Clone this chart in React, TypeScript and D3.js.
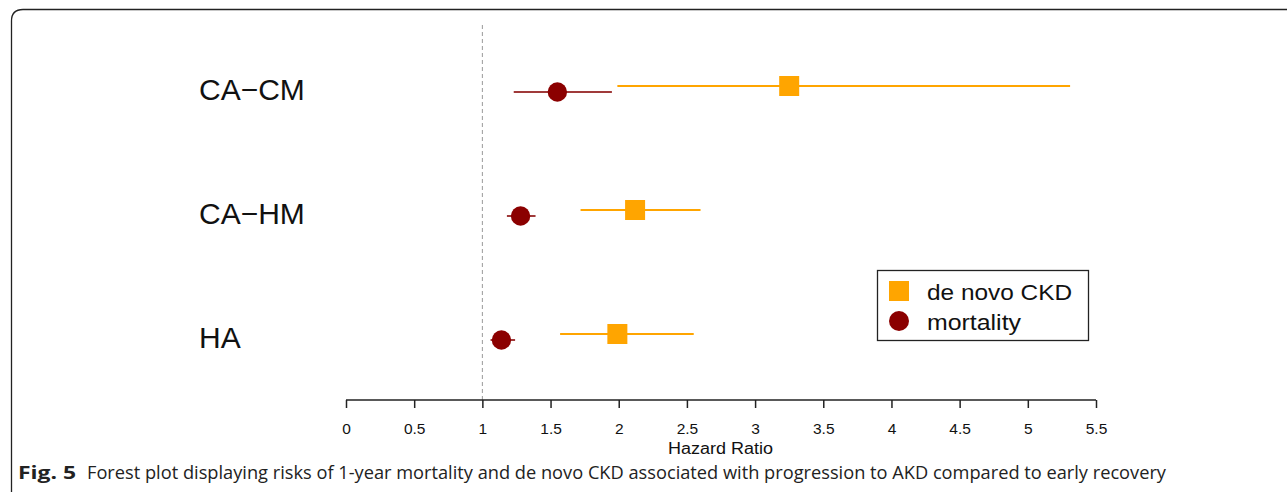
import React, { useEffect, useRef } from 'react'
import * as d3 from 'd3'

// rows of the forest plot, top to bottom
const categories = ['CA\u2212CM', 'CA\u2212HM', 'HA']

// hazard ratio and 95% CI
const ckdHR = [3.25, 2.12, 1.99]
const ckdLow = [1.99, 1.72, 1.57]
const ckdHigh = [5.31, 2.60, 2.55]

const mortHR = [1.55, 1.28, 1.14]
const mortLow = [1.23, 1.18, 1.06]
const mortHigh = [1.95, 1.39, 1.24]

const tickValues = [0, 0.5, 1, 1.5, 2, 2.5, 3, 3.5, 4, 4.5, 5, 5.5]
const legendLabels = ['de novo CKD', 'mortality']
const legendWidths = [145, 94]

const W = 1287
const H = 492
const ORANGE = '#FFA500'
const DARKRED = '#8B0000'

export default function App() {
    const ref = useRef<SVGSVGElement>(null)

    useEffect(() => {
        const svg = d3.select(ref.current)
        svg.selectAll('*').remove()
        const font = "'Liberation Sans', Arial, sans-serif"

        // frame of the figure panel (only top-left corner is visible)
        svg.append('path')
            .attr('d', `M11.5,${H + 2} L11.5,21 Q11.5,9.5 23,9.5 L${W + 2},9.5`)
            .attr('fill', 'none')
            .attr('stroke', '#222')
            .attr('stroke-width', 1.3)

        const x = d3.scaleLinear().domain([0, 5.5]).range([346, 1096])
        const y = d3.scalePoint<string>().domain(categories).range([89, 337])

        // reference line at HR = 1
        svg.append('line')
            .attr('x1', x(1)).attr('x2', x(1))
            .attr('y1', 25).attr('y2', 400)
            .attr('stroke', '#999')
            .attr('stroke-dasharray', '4,3')
            .attr('stroke-width', 1)

        // x axis
        const axis = svg.append('g')
            .attr('transform', 'translate(0,400)')
            .call(d3.axisBottom(x).tickValues(tickValues).tickSize(8).tickPadding(15)
                .tickFormat(d => String(d)))
        axis.select('.domain').attr('stroke', '#222').attr('stroke-width', 1.5)
            .attr('d', `M${x(0)},0H${x(5.5)}`)
        axis.selectAll('.tick line').attr('stroke', '#222').attr('stroke-width', 1.5)
        axis.selectAll('.tick text')
            .attr('font-family', font)
            .attr('font-size', 15.5)
            .attr('fill', '#111')

        svg.append('text')
            .attr('x', 668).attr('y', 454)
            .attr('font-family', font)
            .attr('font-size', 16)
            .attr('textLength', 105)
            .attr('lengthAdjust', 'spacingAndGlyphs')
            .attr('fill', '#111')
            .text('Hazard Ratio')

        // category labels
        svg.selectAll('text.cat').data(categories).enter().append('text')
            .attr('class', 'cat')
            .attr('x', 199)
            .attr('y', d => (y(d) as number) + 11)
            .attr('font-family', font)
            .attr('font-size', 30)
            .attr('fill', '#111')
            .text(d => d)

        const rows = categories.map((c, i) => ({
            c,
            ckd: ckdHR[i], ckdL: ckdLow[i], ckdH: ckdHigh[i],
            m: mortHR[i], mL: mortLow[i], mH: mortHigh[i],
        }))

        // de novo CKD intervals and squares
        const ck = svg.append('g')
        ck.selectAll('line').data(rows).enter().append('line')
            .attr('x1', d => x(d.ckdL)).attr('x2', d => x(d.ckdH))
            .attr('y1', d => (y(d.c) as number) - 3).attr('y2', d => (y(d.c) as number) - 3)
            .attr('stroke', ORANGE).attr('stroke-width', 2)
        ck.selectAll('rect').data(rows).enter().append('rect')
            .attr('x', d => x(d.ckd) - 10).attr('y', d => (y(d.c) as number) - 13)
            .attr('width', 20).attr('height', 20)
            .attr('fill', ORANGE)

        // mortality intervals and circles
        const mo = svg.append('g')
        mo.selectAll('line').data(rows).enter().append('line')
            .attr('x1', d => x(d.mL)).attr('x2', d => x(d.mH))
            .attr('y1', d => (y(d.c) as number) + 3).attr('y2', d => (y(d.c) as number) + 3)
            .attr('stroke', '#A03A3A').attr('stroke-width', 2)
        mo.selectAll('circle').data(rows).enter().append('circle')
            .attr('cx', d => x(d.m)).attr('cy', d => (y(d.c) as number) + 3)
            .attr('r', 9.7)
            .attr('fill', DARKRED)

        // legend
        const lg = svg.append('g')
        lg.append('rect')
            .attr('x', 877.5).attr('y', 270.5).attr('width', 211).attr('height', 70)
            .attr('fill', 'white').attr('stroke', '#222').attr('stroke-width', 1.3)
        lg.append('rect').attr('x', 889).attr('y', 281).attr('width', 20).attr('height', 20).attr('fill', ORANGE)
        lg.append('circle').attr('cx', 899).attr('cy', 321).attr('r', 10).attr('fill', DARKRED)
        lg.selectAll('text').data(legendLabels).enter().append('text')
            .attr('x', 927).attr('y', (d, i) => 300 + i * 30)
            .attr('font-family', font)
            .attr('font-size', 22)
            .attr('textLength', (d, i) => legendWidths[i])
            .attr('lengthAdjust', 'spacingAndGlyphs')
            .attr('fill', '#111')
            .text(d => d)

        // caption
        const cap = svg.append('text')
            .attr('y', 479)
            .attr('font-family', "'Open Sans', 'Noto Sans', sans-serif")
            .attr('font-size', 18)
            .attr('fill', '#222')
        cap.append('tspan').attr('x', 18).attr('font-weight', 'bold')
            .attr('textLength', 58).attr('lengthAdjust', 'spacingAndGlyphs')
            .text('Fig. 5')
        cap.append('tspan').attr('x', 87)
            .attr('textLength', 1079).attr('lengthAdjust', 'spacingAndGlyphs')
            .text('Forest plot displaying risks of 1-year mortality and de novo CKD associated with progression to AKD compared to early recovery')
    }, [])

    return (
        <svg ref={ref} width={W} height={H}
            style={{ position: 'absolute', left: 0, top: 0, background: 'white' }} />
    )
}
